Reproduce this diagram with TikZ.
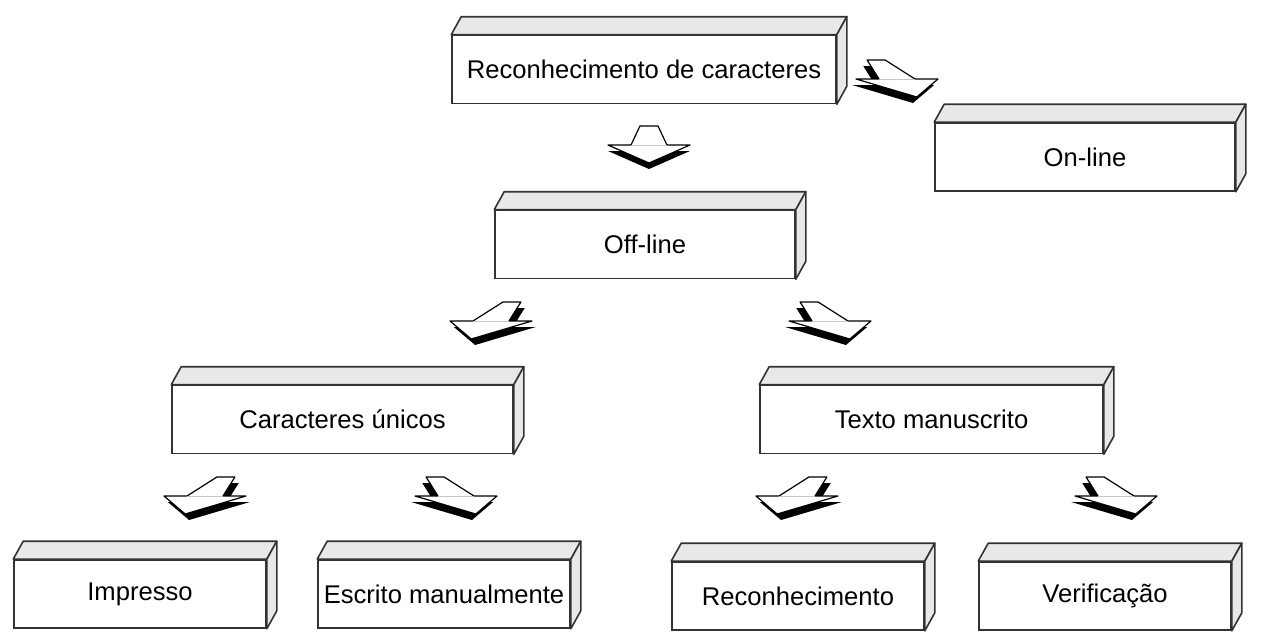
\documentclass[tikz,border=0pt]{standalone}
\usepackage{fontspec}
\setmainfont{Liberation Sans}
\usetikzlibrary{calc}

\tikzset{
  box/.style={draw=black!80, line width=0.8pt, fill=white, minimum height=34pt,
    inner sep=0pt, font=\fontsize{12.8}{15}\selectfont},
  face/.style={draw=black!80, line width=0.8pt, fill=gray!18, line join=round}
}
% block arrow outline, head edge centred at the origin
\newcommand{\bArrowPath}{(-9,-19) -- (9,-19) -- (18,0) -- (41,0) -- (0,18) -- (-41,0) -- (-18,0) -- cycle}
% #1 position, #2 mirror (1 or -1), #3 slant
\newcommand{\blockarrow}[3]{%
  \begin{scope}[shift={#1}, shift={(3.5*#2*#3,6)}, xscale=#2, xslant=#3]
    \fill[black] \bArrowPath;
  \end{scope}
  \begin{scope}[shift={#1}, xscale=#2, xslant=#3]
    \filldraw[fill=white, draw=black, line width=0.6pt, line join=round] \bArrowPath;
    \draw[gray!45, line width=0.5pt] (-18,0) -- (18,0);
  \end{scope}}

\begin{document}
\begin{tikzpicture}[x=0.5pt,y=-0.5pt]
\useasboundingbox (0,0) rectangle (1266,638);
% boxes
\node[box, minimum width=192pt] (rec) at (644,69.5) {Reconhecimento de caracteres};
\node[box, minimum width=150pt] (onl) at (1085,157) {On-line};
\node[box, minimum width=150pt] (off) at (645,244.5) {Off-line};
\node[box, minimum width=170.5pt] (uni) at (342.5,419.5) {Caracteres únicos};
\node[box, minimum width=171.5pt] (man) at (931.5,419.5) {Texto manuscrito};
\node[box, minimum width=126pt] (imp) at (140,594) {Impresso};
\node[box, minimum width=126pt] (esc) at (444,594) {Escrito manualmente};
\node[box, minimum width=126pt] (rcn) at (798,596) {Reconhecimento};
\node[box, minimum width=126pt] (ver) at (1105,596) {Verificação};
% top and side faces
\foreach \n in {rec,onl,off,uni,man,imp,esc,rcn,ver} {
  \draw[face] (\n.north west) -- ++(10,-18) -- ($(\n.north east)+(10,-18)$) -- (\n.north east) -- cycle;
  \draw[face] (\n.north east) -- ++(10,-18) -- ($(\n.south east)+(10,-18)$) -- (\n.south east) -- cycle;
}
% arrows
\blockarrow{(897,79)}{-1}{1.1}
\blockarrow{(649,145)}{1}{0}
\blockarrow{(491,321)}{1}{1.1}
\blockarrow{(830,321)}{-1}{1.1}
\blockarrow{(205,496)}{1}{1.1}
\blockarrow{(456,496)}{-1}{1.1}
\blockarrow{(797,496)}{1}{1.1}
\blockarrow{(1116,496)}{-1}{1.1}
\end{tikzpicture}
\end{document}
